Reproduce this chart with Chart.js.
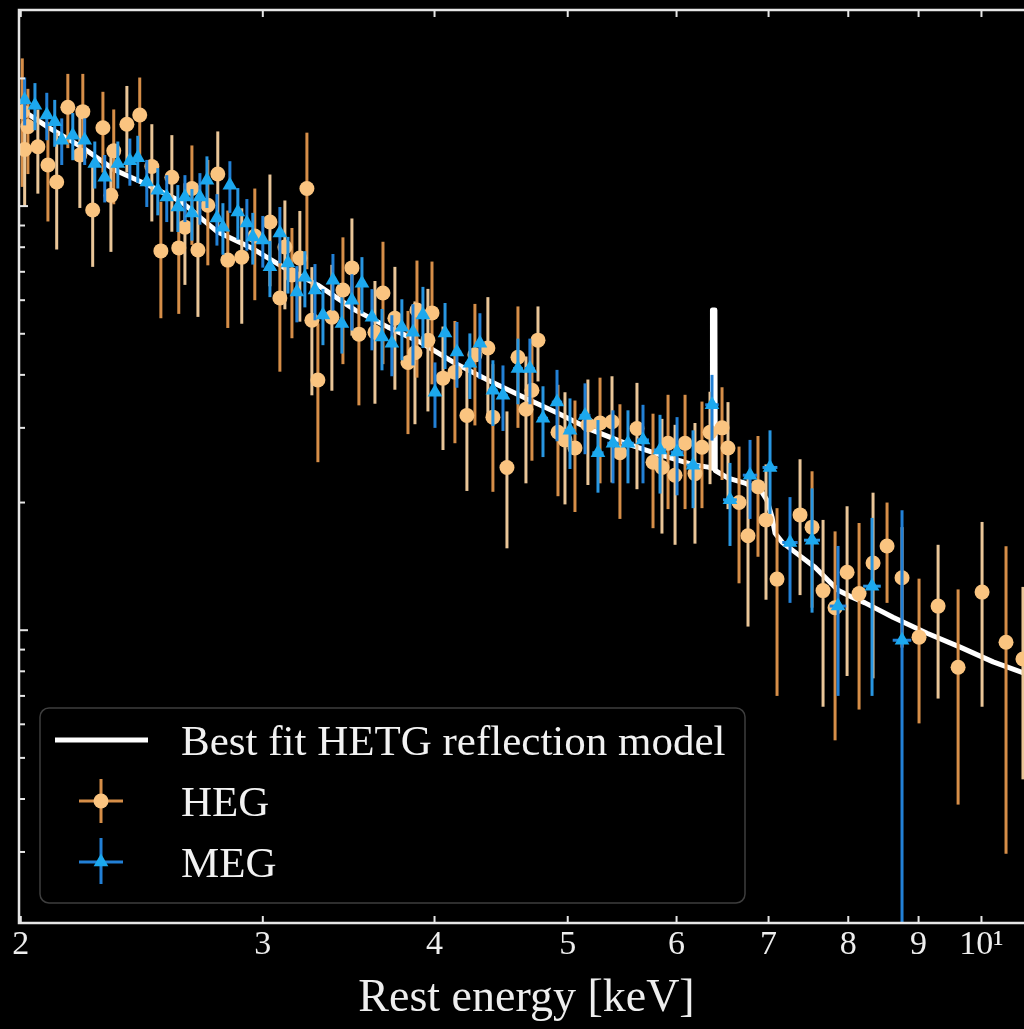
<!DOCTYPE html>
<html>
<head>
<meta charset="utf-8">
<script src="https://cdn.jsdelivr.net/npm/chart.js@4.4.0/dist/chart.umd.min.js"></script>
<style>
html,body{margin:0;padding:0;background:#000;overflow:hidden;width:1024px;height:1029px}
#wrap{position:absolute;left:0;top:0;width:1050px;height:1029px}
canvas{display:block}
</style>
</head>
<body>
<div id="wrap"><canvas id="c" width="1050" height="1029"></canvas></div>
<script>
// ---------------- data ----------------
const seriesLabels = ['Best fit HETG reflection model', 'HEG', 'MEG'];
const xAxisTitle = 'Rest energy [keV]';
const xTickValues = [2, 3, 4, 5, 6, 7, 8, 9, 10];
const xTickLabels = ['2', '3', '4', '5', '6', '7', '8', '9', '10\u00B9'];
const yTickValues = [0.3,0.4,0.5,0.6,0.7,0.8,0.9,1,2,3,4,5,6,7,8,9,10,20];
const yMajorTicks = [1, 10];

const hegEnergy = [2.005,2.013,2.024,2.058,2.093,2.124,2.164,2.208,2.219,2.256,2.295,2.326,2.337,2.389,2.441,2.491,2.529,2.576,2.606,2.633,2.664,2.691,2.736,2.782,2.829,2.896,2.960,3.036,3.087,3.113,3.150,3.192,3.230,3.257,3.290,3.368,3.431,3.483,3.524,3.620,3.669,3.743,3.826,3.871,3.884,3.956,3.983,4.057,4.139,4.223,4.280,4.374,4.411,4.516,4.600,4.662,4.709,4.757,4.919,4.977,5.061,5.172,5.278,5.385,5.457,5.615,5.768,5.855,5.915,5.985,6.086,6.188,6.261,6.346,6.475,6.540,6.662,6.763,6.877,6.970,7.100,7.379,7.529,7.669,7.825,7.984,8.146,8.339,8.537,8.754,9.007,9.299,9.616,10.01,10.42,10.72];
const hegFlux = [16.7,13.6,15.4,13.8,12.5,11.4,17.1,13.2,16.7,9.79,15.3,10.6,13.5,15.6,16.4,12.4,7.84,11.7,7.97,8.92,11.0,7.88,10.05,11.9,7.46,7.58,8.50,9.17,6.07,8.01,6.88,7.54,11.0,5.38,3.89,5.47,6.34,7.15,4.99,5.04,6.24,5.44,4.28,4.51,5.69,4.83,5.60,3.93,4.06,3.21,4.46,4.63,3.18,2.42,4.40,3.32,3.68,4.83,2.93,2.81,2.69,3.05,3.08,3.10,2.62,2.99,2.49,2.42,2.76,2.32,2.76,2.34,2.70,2.93,3.00,2.69,2.00,1.67,2.18,1.82,1.32,1.87,1.75,1.24,1.13,1.37,1.22,1.44,1.58,1.33,0.963,1.14,0.818,1.23,0.937,0.855];
const hegErr = [5.6,3.6,3.5,3.1,3.3,3.5,3.4,3.3,3.8,2.6,3.3,2.8,3.4,3.6,3.7,3.2,2.4,3.0,2.4,2.4,2.9,2.4,2.8,3.1,2.3,2.3,2.5,2.7,2.0,2.3,2.0,2.2,3.9,1.8,1.4,1.8,2.1,2.2,1.6,1.62,2.0,1.75,1.38,1.45,1.75,1.55,1.8,1.27,1.3,1.08,1.42,1.47,1.06,0.86,1.4,1.1,1.17,0.97,0.86,0.83,0.79,0.85,0.86,0.87,0.79,0.84,0.75,0.73,0.83,0.73,0.83,0.74,0.76,0.72,0.74,0.76,0.71,0.65,0.69,0.64,0.62,0.66,0.62,0.58,0.58,0.59,0.57,0.67,0.42,0.42,0.36,0.45,0.43,0.57,0.64,0.41];

const megEnergy = [2.013,2.048,2.089,2.117,2.142,2.182,2.226,2.264,2.302,2.353,2.401,2.433,2.470,2.516,2.554,2.602,2.633,2.664,2.700,2.732,2.778,2.806,2.839,2.877,2.921,2.950,3.000,3.036,3.087,3.129,3.176,3.219,3.274,3.318,3.374,3.425,3.483,3.542,3.602,3.663,3.724,3.787,3.858,3.923,4.003,4.071,4.153,4.244,4.316,4.411,4.486,4.600,4.693,4.797,4.911,5.019,5.147,5.260,5.394,5.531,5.672,5.836,6.005,6.168,6.367,6.562,6.786,7.017,7.256,7.529,7.864,8.325,8.754];
const megFlux = [17.8,17.3,16.4,15.8,14.3,14.7,14.3,12.6,11.7,12.6,12.8,13.0,11.4,10.9,10.5,9.95,10.5,9.63,10.5,11.5,9.37,8.92,11.2,9.68,9.12,8.46,8.32,7.19,8.64,7.34,6.27,6.80,6.34,5.54,6.69,5.29,6.00,6.58,5.47,4.91,4.75,5.18,5.04,5.54,3.64,5.02,4.53,4.26,4.75,3.68,3.58,4.14,4.14,3.16,3.45,2.96,3.21,2.62,2.76,2.76,2.81,2.66,2.63,2.45,3.40,2.03,2.32,2.42,1.61,1.63,1.14,1.27,0.947];
const megErr = [2.3,2.2,2.1,2.0,1.8,1.87,1.8,1.6,1.5,1.6,1.63,1.65,1.45,1.39,1.33,1.26,1.33,1.34,1.46,1.6,1.3,1.24,1.56,1.35,1.27,1.18,1.16,1.09,1.31,1.12,0.95,1.03,0.96,0.84,1.02,0.80,0.91,1.0,0.90,0.81,0.78,0.85,0.83,0.91,0.64,0.89,0.80,0.75,0.84,0.65,0.63,0.73,0.73,0.60,0.66,0.56,0.61,0.51,0.54,0.54,0.59,0.56,0.55,0.51,0.60,0.45,0.49,0.54,0.45,0.53,0.44,0.57,0.97];

// bin half widths in wavelength (Angstrom)
const hegBinHalfWidth = 0.012;
const megBinHalfWidth = 0.022;

const modelEnergy = [1.99,2.093,2.215,2.341,2.475,2.619,2.782,2.945,3.113,3.290,3.502,3.700,3.916,4.139,4.376,4.693,4.919,5.208,5.504,5.817,6.158,6.325,6.368,6.372,6.398,6.402,6.541,6.729,6.923,6.981,7.041,7.077,7.160,7.317,7.567,7.733,7.864,8.051,8.229,8.622,9.129,9.649,10.197,10.741,11.03];
const modelFlux = [17.1,15.36,13.78,12.16,11.21,10.22,8.685,7.961,7.142,6.512,5.685,5.184,4.753,4.264,3.887,3.486,3.249,2.963,2.761,2.600,2.460,2.424,2.41,5.69,5.69,2.38,2.283,2.222,2.116,2.026,1.847,1.693,1.613,1.528,1.408,1.312,1.243,1.196,1.160,1.073,0.984,0.912,0.842,0.792,0.762];

// ---------------- styles ----------------
const SERIF = "'Liberation Serif', 'DejaVu Serif', serif";
const hegMarker = 'rgb(250,196,128)';
const hegBarColors = ['rgb(214,142,72)', 'rgb(234,198,152)'];
const megMarker = 'rgb(28,168,238)';
const megBarColors = ['rgb(34,128,214)', 'rgb(40,150,225)'];

const toPts = (xs, ys) => xs.map((v, i) => ({x: v, y: ys[i]}));

const errorBarPlugin = {
  id: 'errorBars',
  beforeDatasetDraw(chart, args) {
    const ds = chart.data.datasets[args.index];
    if (!ds.errors) return;
    const {ctx, chartArea: a, scales: {x, y}} = chart;
    ctx.save();
    ctx.beginPath();
    ctx.rect(a.left, a.top, a.right - a.left, a.bottom - a.top);
    ctx.clip();
    ctx.lineWidth = 3;
    ctx.lineCap = 'butt';
    ds.data.forEach((p, i) => {
      const e = ds.errors[i];
      const px = x.getPixelForValue(p.x);
      const py = y.getPixelForValue(p.y);
      const yTop = y.getPixelForValue(p.y + e);
      const lo = p.y - e;
      const yBot = lo > 0 ? y.getPixelForValue(lo) : a.bottom + 20;
      ctx.strokeStyle = ds.barColors[i % ds.barColors.length];
      ctx.beginPath();
      ctx.moveTo(px, yTop);
      ctx.lineTo(px, yBot);
      ctx.stroke();
      const dE = p.x * p.x / 12.398 * ds.binHalfWidth;
      const xl = x.getPixelForValue(p.x - dE), xr = x.getPixelForValue(p.x + dE);
      ctx.beginPath();
      ctx.moveTo(xl, py);
      ctx.lineTo(xr, py);
      ctx.stroke();
    });
    ctx.restore();
  }
};

function line(ctx, x1, y1, x2, y2) {
  ctx.beginPath(); ctx.moveTo(x1, y1); ctx.lineTo(x2, y2); ctx.stroke();
}

const framePlugin = {
  id: 'frameTicksLegend',
  afterDraw(chart) {
    const {ctx, chartArea: a, scales: {x, y}} = chart;
    ctx.save();
    ctx.strokeStyle = '#e6e6e6';
    ctx.lineWidth = 2;
    xTickValues.forEach(v => {
      const px = x.getPixelForValue(v);
      line(ctx, px, a.bottom, px, a.bottom - 7);
      line(ctx, px, a.top, px, a.top + 7);
    });
    yTickValues.forEach(v => {
      const py = y.getPixelForValue(v);
      const len = yMajorTicks.includes(v) ? 9 : 6;
      line(ctx, a.left, py, a.left + len, py);
    });
    ctx.lineWidth = 2.5;
    ctx.strokeRect(a.left, a.top, a.right - a.left, a.bottom - a.top);

    // legend
    const bx = 40, by = 708, bw = 705, bh = 195, r = 9;
    ctx.beginPath();
    ctx.roundRect(bx, by, bw, bh, r);
    ctx.fillStyle = 'rgba(0,0,0,0.85)';
    ctx.fill();
    ctx.strokeStyle = 'rgb(62,62,62)';
    ctx.lineWidth = 1.5;
    ctx.stroke();

    const rows = [740, 801, 862];
    ctx.strokeStyle = '#ffffff';
    ctx.lineWidth = 5;
    line(ctx, 55, rows[0], 148, rows[0]);
    ctx.lineWidth = 3;
    ctx.strokeStyle = hegBarColors[0];
    line(ctx, 101, rows[1] - 22, 101, rows[1] + 22);
    line(ctx, 79, rows[1], 123, rows[1]);
    ctx.fillStyle = hegMarker;
    ctx.beginPath(); ctx.arc(101, rows[1], 7.5, 0, Math.PI * 2); ctx.fill();
    ctx.strokeStyle = megBarColors[0];
    line(ctx, 101, rows[2] - 24, 101, rows[2] + 22);
    line(ctx, 79, rows[2], 123, rows[2]);
    ctx.fillStyle = megMarker;
    const tr = 8.5;
    ctx.beginPath();
    ctx.moveTo(101, rows[2] - tr);
    ctx.lineTo(101 + tr * 0.866, rows[2] + tr / 2);
    ctx.lineTo(101 - tr * 0.866, rows[2] + tr / 2);
    ctx.closePath(); ctx.fill();

    ctx.fillStyle = '#f2f2f2';
    ctx.font = '43px ' + SERIF;
    ctx.textBaseline = 'alphabetic';
    ctx.textAlign = 'left';
    seriesLabels.forEach((t, i) => ctx.fillText(t, 181, rows[i] + 15));
    ctx.restore();
  }
};

new Chart(document.getElementById('c'), {
  type: 'scatter',
  data: {
    datasets: [
      {
        label: seriesLabels[0],
        data: toPts(modelEnergy, modelFlux),
        showLine: true,
        borderColor: '#ffffff',
        borderWidth: 5,
        borderJoinStyle: 'round',
        borderCapStyle: 'round',
        pointRadius: 0,
        tension: 0,
        order: 3
      },
      {
        label: seriesLabels[1],
        data: toPts(hegEnergy, hegFlux),
        errors: hegErr,
        barColors: hegBarColors,
        binHalfWidth: hegBinHalfWidth,
        pointStyle: 'circle',
        pointRadius: 7.5,
        pointBackgroundColor: hegMarker,
        pointBorderWidth: 0,
        order: 2
      },
      {
        label: seriesLabels[2],
        data: toPts(megEnergy, megFlux),
        errors: megErr,
        barColors: megBarColors,
        binHalfWidth: megBinHalfWidth,
        pointStyle: 'triangle',
        pointRadius: 8.5,
        pointBackgroundColor: megMarker,
        pointBorderWidth: 0,
        order: 1
      }
    ]
  },
  options: {
    responsive: false,
    animation: false,
    events: [],
    layout: {padding: {left: 0, top: 10, right: 16, bottom: 0}},
    plugins: {legend: {display: false}, tooltip: {enabled: false}},
    scales: {
      x: {
        type: 'logarithmic',
        min: 1.994,
        max: 10.92,
        afterBuildTicks: s => { s.ticks = xTickValues.map(v => ({value: v})); },
        afterFit: s => { s.height = 106; },
        grid: {display: false, drawTicks: false},
        border: {display: false},
        ticks: {
          autoSkip: false, maxRotation: 0, padding: 2, color: '#eeeeee',
          font: {family: SERIF, size: 34},
          callback: v => { const k = xTickValues.indexOf(v); return k >= 0 ? xTickLabels[k] : ''; }
        },
        title: {display: true, text: xAxisTitle, color: '#eeeeee', font: {family: SERIF, size: 46}, padding: {top: 0, bottom: 2}}
      },
      y: {
        type: 'logarithmic',
        min: 0.204,
        max: 29.0,
        afterBuildTicks: s => { s.ticks = yTickValues.map(v => ({value: v})); },
        afterFit: s => { s.width = 19; },
        grid: {display: false, drawTicks: false},
        border: {display: false},
        ticks: {display: false}
      }
    }
  },
  plugins: [errorBarPlugin, framePlugin]
});
</script>
</body>
</html>
